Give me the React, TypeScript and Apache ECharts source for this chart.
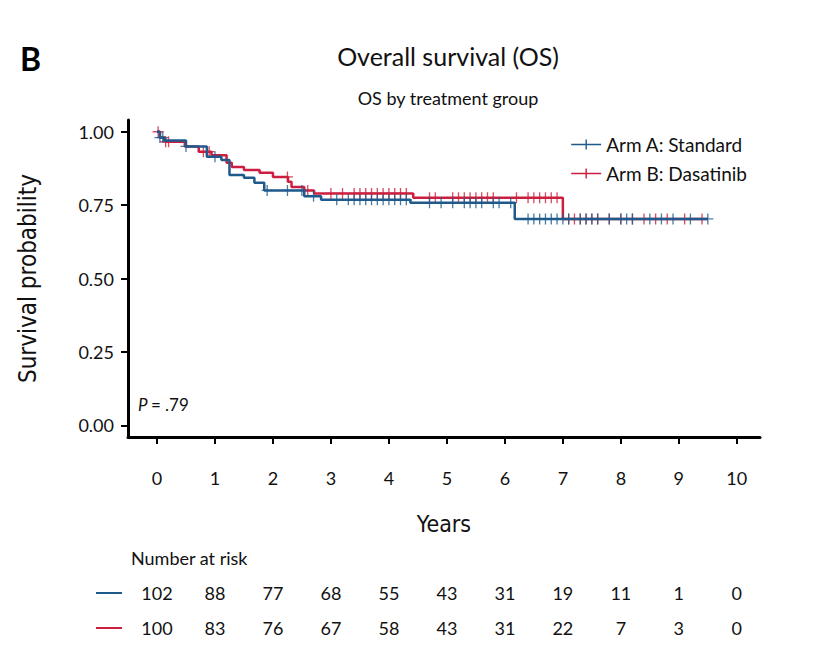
import React, { useEffect, useRef } from "react";
import * as echarts from "echarts";

// Kaplan-Meier steps: [time, survival]
const armASteps: [number, number][] = [
  [0, 1.0], [0.05, 0.98], [0.12, 0.97], [0.5, 0.95], [0.86, 0.915], [1.11, 0.904], [1.25, 0.853],
  [1.5, 0.843], [1.68, 0.826], [1.85, 0.8], [2.54, 0.78], [2.83, 0.768], [4.37, 0.758],
  [6.17, 0.703], [9.5, 0.703],
];
const armBSteps: [number, number][] = [
  [0, 1.0], [0.05, 0.98], [0.14, 0.966], [0.48, 0.95], [0.72, 0.932], [0.94, 0.92], [1.2, 0.894],
  [1.29, 0.88], [1.5, 0.87], [1.77, 0.86], [2.0, 0.846], [2.26, 0.83], [2.32, 0.812],
  [2.54, 0.8], [2.71, 0.79], [4.42, 0.775], [7.0, 0.703], [9.5, 0.703],
];
const armACensor = [0.05, 0.1, 0.5, 1.0, 1.9, 2.25, 2.5, 2.7, 3.1, 3.3, 3.4, 3.5, 3.6, 3.7, 3.8, 3.9, 4.0, 4.1, 4.2, 4.3,
  4.7, 4.9, 5.1, 5.3, 5.4, 5.5, 5.6, 5.8, 5.9, 6.1, 6.4, 6.5, 6.6, 6.7, 6.8, 6.9, 7.0, 7.1, 7.3, 7.4, 7.5, 7.6,
  7.8, 8.0, 8.1, 8.2, 8.5, 8.7, 8.9, 9.2, 9.5];
const armBCensor = [0.02, 0.15, 0.2, 0.8, 0.9, 2.25, 2.6, 3.0, 3.2, 3.4, 3.5, 3.6, 3.7, 3.8, 3.9, 4.0, 4.1, 4.2, 4.3,
  4.7, 4.8, 5.1, 5.2, 5.3, 5.4, 5.5, 5.6, 5.7, 5.8, 6.2, 6.4, 6.5, 6.6, 6.7, 6.8, 6.9, 7.1, 7.2, 7.3, 7.4,
  7.5, 7.6, 7.8, 8.0, 8.2, 8.4, 8.6, 8.8, 9.1, 9.4];
const xTicks = [0, 1, 2, 3, 4, 5, 6, 7, 8, 9, 10];
const yTicks = [0, 0.25, 0.5, 0.75, 1];
const riskA = [102, 88, 77, 68, 55, 43, 31, 19, 11, 1, 0];
const riskB = [100, 83, 76, 67, 58, 43, 31, 22, 7, 3, 0];

const BLUE = "#1f5a8c";
const RED = "#cc1f3f";
const plus = "path://M0,4.4h10v1.2h-10zM4.4,0h1.2v10h-1.2z";
const legendIcon = "path://M0,4.3h30v1.4h-30zM14.3,0h1.4v10h-1.4z";
const font = "Lato, 'Open Sans', sans-serif";
const narrow = "'Liberation Sans Narrow', 'DejaVu Sans Condensed', sans-serif";

const survAt = (steps: [number, number][], t: number) => {
  let s = 1;
  steps.forEach(([x, y]) => { if (x <= t) s = y; });
  return s;
};

const App: React.FC = () => {
  const ref = useRef<HTMLDivElement>(null);

  useEffect(() => {
    if (!ref.current) return;
    const chart = echarts.init(ref.current, null, { renderer: "svg" });
    const axisLine = { onZero: false, lineStyle: { color: "#000", width: 3 } };
    const option: any = {
      animation: false,
      grid: { left: 117, right: 49, top: 112, bottom: 212 },
      title: [
        { text: "Overall survival (OS)", left: 435, top: 30, textAlign: "center",
          textStyle: { fontFamily: font, fontSize: 25, fontWeight: "normal", color: "#111" } },
        { text: "OS by treatment group", left: 435, top: 76, textAlign: "center",
          textStyle: { fontFamily: font, fontSize: 18, fontWeight: "normal", color: "#111" } },
      ],
      legend: {
        right: 57, top: 122, orient: "vertical", itemWidth: 30, itemHeight: 12, itemGap: 10,
        textStyle: { fontFamily: font, fontSize: 19, color: "#111" },
        data: [
          { name: "Arm A: Standard", icon: legendIcon, itemStyle: { color: BLUE } },
          { name: "Arm B: Dasatinib", icon: legendIcon, itemStyle: { color: RED } },
        ],
      },
      xAxis: {
        type: "value", min: -0.5, max: 10.4,
        name: "Years", nameLocation: "middle", nameGap: 75,
        nameTextStyle: { fontFamily: narrow, fontSize: 23, color: "#111" },
        axisLine, axisTick: { length: 7, customValues: xTicks, lineStyle: { color: "#000", width: 2 } },
        splitLine: { show: false },
        axisLabel: { fontFamily: font, fontSize: 18, color: "#111", margin: 32, customValues: xTicks },
      },
      yAxis: {
        type: "value", min: -0.04, max: 1.04,
        name: "Survival probability", nameLocation: "middle", nameGap: 88,
        nameTextStyle: { fontFamily: narrow, fontSize: 24, color: "#111" },
        axisLine: { show: true, ...axisLine },
        axisTick: { show: true, length: 7, customValues: yTicks, lineStyle: { color: "#000", width: 2 } },
        splitLine: { show: false },
        axisLabel: { fontFamily: font, fontSize: 18, color: "#111", margin: 14,
          customValues: yTicks, formatter: (v: number) => v.toFixed(2) },
      },
      series: [
        { name: "Arm A: Standard", type: "line", step: "end", showSymbol: false, data: armASteps,
          lineStyle: { color: BLUE, width: 2.5 }, itemStyle: { color: BLUE }, z: 3 },
        { name: "Arm B: Dasatinib", type: "line", step: "end", showSymbol: false, data: armBSteps,
          lineStyle: { color: RED, width: 2.5 }, itemStyle: { color: RED }, z: 2 },
        { name: "Arm A: Standard", type: "scatter", symbol: plus, symbolSize: 11,
          data: armACensor.map((t) => [t, survAt(armASteps, t)]), itemStyle: { color: BLUE }, z: 3 },
        { name: "Arm B: Dasatinib", type: "scatter", symbol: plus, symbolSize: 11,
          data: armBCensor.map((t) => [t, survAt(armBSteps, t)]), itemStyle: { color: RED }, z: 2 },
      ],
    };
    chart.setOption(option);

    const xs = xTicks.map((y) => chart.convertToPixel({ xAxisIndex: 0 }, y) as number);
    const numText = (x: number, y: number, v: number) => ({
      type: "text", x, y, style: { text: String(v), fontFamily: font, fontSize: 18, fill: "#111",
        textAlign: "center", textVerticalAlign: "middle" },
    });
    chart.setOption({
      graphic: [
        { type: "text", left: 12, top: 34, style: { text: "B", fontFamily: font, fontSize: 32, fontWeight: "bold", fill: "#000" } },
        { type: "text", x: 130, y: 396, style: { rich: { i: { fontStyle: "italic", fontFamily: font, fontSize: 17 }, n: { fontFamily: font, fontSize: 17 } },
          text: "{i|P} {n|= .79}", textVerticalAlign: "middle", fill: "#111" } },
        { type: "text", x: 123, y: 550, style: { text: "Number at risk", fontFamily: font, fontSize: 18, fill: "#111", textVerticalAlign: "middle" } },
        { type: "line", shape: { x1: 88, y1: 585, x2: 114, y2: 585 }, style: { stroke: BLUE, lineWidth: 2 } },
        { type: "line", shape: { x1: 88, y1: 620, x2: 114, y2: 620 }, style: { stroke: RED, lineWidth: 2 } },
        ...riskA.map((v, i) => numText(xs[i], 585, v)),
        ...riskB.map((v, i) => numText(xs[i], 620, v)),
      ],
    });
    return () => chart.dispose();
  }, []);

  return <div ref={ref} style={{ width: 801, height: 641 }} />;
};

export default App;
